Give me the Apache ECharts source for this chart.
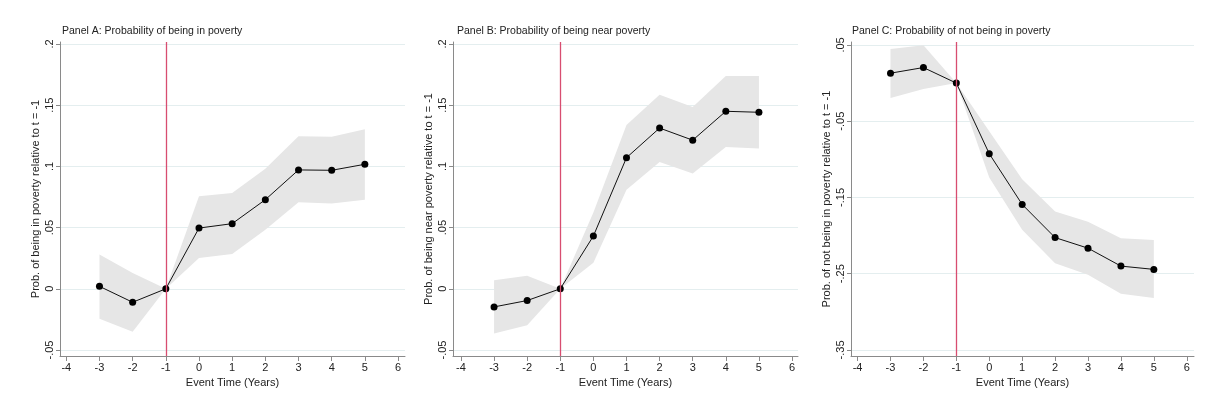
<!DOCTYPE html>
<html>
<head>
<meta charset="utf-8">
<script src="https://cdn.jsdelivr.net/npm/echarts@6/dist/echarts.min.js"></script>
<style>html,body{margin:0;padding:0;background:#fff}#c{width:1208px;height:403px}</style>
</head>
<body>
<div id="c"></div>
<script>
// ---- data ----
const eventTime = [-3, -2, -1, 0, 1, 2, 3, 4, 5];
const xTicks = [-4, -3, -2, -1, 0, 1, 2, 3, 4, 5, 6];

const aCoef = [0.002, -0.011, 0, 0.0496, 0.0532, 0.0728, 0.0971, 0.0968, 0.1017];
const aLow  = [-0.0245, -0.035, 0, 0.0251, 0.0284, 0.0483, 0.0707, 0.0696, 0.0728];
const aHigh = [0.0281, 0.0128, 0, 0.0756, 0.0783, 0.098, 0.1247, 0.1241, 0.1304];

const bCoef = [-0.0148, -0.0096, 0, 0.0431, 0.1071, 0.1313, 0.1214, 0.145, 0.1442];
const bLow  = [-0.0365, -0.0297, 0, 0.0212, 0.081, 0.1036, 0.0942, 0.1159, 0.1146];
const bHigh = [0.0069, 0.0107, 0, 0.0624, 0.1338, 0.1585, 0.1486, 0.1739, 0.1739];

const cCoef = [0.013, 0.0204, 0, -0.0926, -0.1591, -0.2026, -0.2165, -0.24, -0.2443];
const cLow  = [-0.0196, -0.0078, 0, -0.1239, -0.1922, -0.2361, -0.2513, -0.2761, -0.2817];
const cHigh = [0.0448, 0.0496, 0, -0.063, -0.1261, -0.1683, -0.1817, -0.2035, -0.2057];

const abTicks = [-0.05, 0, 0.05, 0.1, 0.15, 0.2];
const cTicks = [-0.35, -0.25, -0.15, -0.05, 0.05];

const titles = [
  'Panel A: Probability of being in poverty',
  'Panel B: Probability of being near poverty',
  'Panel C: Probability of not being in poverty'
];
const yNames = [
  'Prob. of being in poverty relative to t = -1',
  'Prob. of being near poverty relative to t = -1',
  'Prob. of not being in poverty relative to t = -1'
];
const xName = 'Event Time (Years)';

// ---- chart ----
const FONT = 'Liberation Sans, Arial, Helvetica, sans-serif';
function stataFmt(v) {
  if (Math.abs(v) < 1e-9) return '0';
  const s = (+v.toFixed(3)).toString();
  return s.replace(/^(-?)0\./, '$1.');
}

const panels = [
  { grid: { left: 60, top: 42, width: 345, height: 314 }, xr: [-4.19, 6.21], yr: [-0.0549, 0.2016], yt: abTicks, coef: aCoef, lo: aLow, hi: aHigh, tl: 62 },
  { grid: { left: 453, top: 42, width: 345, height: 314 }, xr: [-4.24, 6.18], yr: [-0.0549, 0.2016], yt: abTicks, coef: bCoef, lo: bLow, hi: bHigh, tl: 457 },
  { grid: { left: 851, top: 42, width: 343, height: 314 }, xr: [-4.2, 6.22], yr: [-0.3579, 0.0539], yt: cTicks, coef: cCoef, lo: cLow, hi: cHigh, tl: 852 }
];

const option = {
  backgroundColor: '#fff',
  animation: false,
  textStyle: { fontFamily: FONT },
  title: panels.map((p, i) => ({
    text: titles[i], left: p.tl, top: 26, padding: 0,
    textStyle: { fontSize: 10.5, fontWeight: 'normal', color: '#222', fontFamily: FONT }
  })),
  grid: panels.map(p => p.grid),
  xAxis: panels.map((p, i) => ({
    type: 'value', gridIndex: i, min: p.xr[0], max: p.xr[1],
    name: xName, nameLocation: 'middle', nameGap: 18,
    nameTextStyle: { fontSize: 11, color: '#222', fontFamily: FONT },
    axisLine: { show: true, onZero: false, lineStyle: { color: '#8a8a8a', width: 1 } },
    axisTick: { show: true, length: 5, customValues: xTicks, lineStyle: { color: '#8a8a8a' } },
    axisLabel: { customValues: xTicks, fontSize: 11, color: '#222', margin: 6, fontFamily: FONT },
    splitLine: { show: false }
  })),
  yAxis: panels.map((p, i) => ({
    type: 'value', gridIndex: i, min: p.yr[0], max: p.yr[1],
    name: yNames[i], nameLocation: 'middle', nameGap: 19,
    nameTextStyle: { fontSize: 11, color: '#222', fontFamily: FONT },
    axisLine: { show: true, onZero: false, lineStyle: { color: '#8a8a8a', width: 1 } },
    axisTick: { show: true, length: 4, customValues: p.yt, lineStyle: { color: '#8a8a8a' } },
    axisLabel: { customValues: p.yt, rotate: 90, fontSize: 11, color: '#222', margin: 5, fontFamily: FONT, formatter: stataFmt },
    splitLine: { show: true, lineStyle: { color: '#e4eeef', width: 1 } }
  })),
  series: []
};

panels.forEach((p, i) => {
  option.series.push({
    type: 'custom', xAxisIndex: i, yAxisIndex: i, silent: true, z: 1,
    data: eventTime.map((x, k) => [x, p.lo[k], p.hi[k]]),
    encode: { x: 0, y: [1, 2] },
    renderItem: function (params, api) {
      if (params.dataIndex !== 0) return null;
      const pts = [];
      for (let k = 0; k < eventTime.length; k++) pts.push(api.coord([eventTime[k], p.hi[k]]));
      for (let k = eventTime.length - 1; k >= 0; k--) pts.push(api.coord([eventTime[k], p.lo[k]]));
      return { type: 'polygon', shape: { points: pts }, style: { fill: '#e6e6e6', stroke: null } };
    },
    markLine: {
      silent: true, symbol: 'none', label: { show: false },
      lineStyle: { color: '#d84d70', width: 1.3, type: 'solid' },
      data: [{ xAxis: -1 }]
    }
  });
  option.series.push({
    type: 'line', xAxisIndex: i, yAxisIndex: i, z: 3,
    data: eventTime.map((x, k) => [x, p.coef[k]]),
    symbol: 'circle', symbolSize: 7, showSymbol: true,
    itemStyle: { color: '#000' },
    lineStyle: { color: '#111', width: 1 }
  });
});

const chart = echarts.init(document.getElementById('c'), null, { renderer: 'canvas' });
chart.setOption(option);
</script>
</body>
</html>
